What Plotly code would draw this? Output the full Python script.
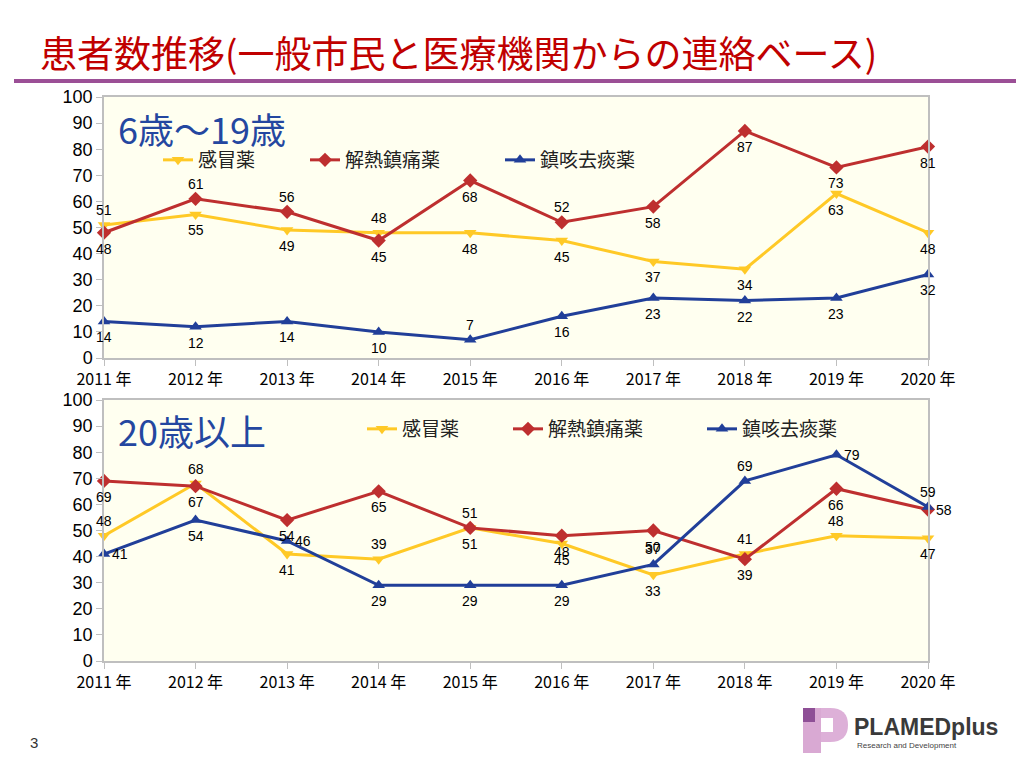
import plotly.graph_objects as go

years = ["2011 年", "2012 年", "2013 年", "2014 年", "2015 年",
         "2016 年", "2017 年", "2018 年", "2019 年", "2020 年"]
series_names = ["感冒薬", "解熱鎮痛薬", "鎮咳去痰薬"]

# 6歳～19歳
youth_cold = [51, 55, 49, 48, 48, 45, 37, 34, 63, 48]
youth_fever = [48, 61, 56, 45, 68, 52, 58, 87, 73, 81]
youth_cough = [14, 12, 14, 10, 7, 16, 23, 22, 23, 32]

# 20歳以上
adult_cold = [48, 68, 41, 39, 51, 45, 33, 41, 48, 47]
adult_fever = [69, 67, 54, 65, 51, 48, 50, 39, 66, 58]
adult_cough = [41, 54, 46, 29, 29, 29, 37, 69, 79, 59]

# data-label placement: T above, B below, R right of the point
T, B, R = "T", "B", "R"
youth_cold_pos = [T, B, B, T, B, B, B, B, B, B]
youth_fever_pos = [B, T, T, B, B, T, B, B, B, B]
youth_cough_pos = [B, B, B, B, T, B, B, B, B, B]
adult_cold_pos = [T, T, B, T, T, B, B, T, T, B]
adult_fever_pos = [B, B, B, B, B, B, B, B, B, R]
adult_cough_pos = [R, B, R, B, B, B, T, T, R, T]

colors = ["#FFC926", "#BE2F2F", "#213F99"]
symbols = ["triangle-down", "diamond", "triangle-up"]

W, H = 1024, 768
OFF = 8  # page body margin offset
def px(x):
    return (x - OFF) / W
def py(y):
    return 1 - (y - OFF) / H

# legend item left edges (pixels) per panel, and legend centre rows
legend_x_top = [158, 305, 500]
legend_x_bottom = [362, 508, 702]
legend_y_top = 160
legend_y_bottom = 429

fig = go.Figure()
xs = list(range(len(years)))

panels = [
    ("x", "y", [youth_cold, youth_fever, youth_cough],
     [youth_cold_pos, youth_fever_pos, youth_cough_pos], ["legend", "legend2", "legend3"]),
    ("x2", "y2", [adult_cold, adult_fever, adult_cough],
     [adult_cold_pos, adult_fever_pos, adult_cough_pos], ["legend4", "legend5", "legend6"]),
]

label_annotations = []
SHIFT = {"T": (0, 15), "B": (0, -16), "R": (16, 0)}
for xa, ya, vals, poss, lgs in panels:
    for name, v, c, s, lg in zip(series_names, vals, colors, symbols, lgs):
        fig.add_trace(go.Scatter(
            x=xs, y=v, xaxis=xa, yaxis=ya, name=name, legend=lg,
            mode="lines+markers", cliponaxis=False,
            line=dict(color=c, width=3),
            marker=dict(symbol=s, size=11, color=c),
        ))
    for v, p in zip(vals, poss):
        for xi, val, pos in zip(xs, v, p):
            dx, dy = SHIFT[pos]
            label_annotations.append(dict(
                x=xi, y=val, xref=xa, yref=ya, text=str(val), showarrow=False,
                xshift=dx, yshift=dy, xanchor="center", yanchor="middle",
                font=dict(size=14, color="black", family="Liberation Sans"),
            ))

axis_x = dict(
    tickvals=xs, ticktext=years, range=[0, 9], showgrid=False, zeroline=False,
    showline=True, linecolor="#BFBFBF", linewidth=1.5, mirror=True,
    ticks="outside", ticklen=6, tickcolor="#BFBFBF", automargin=False,
    tickfont=dict(size=16, color="black", family="Noto Sans CJK JP"),
    domain=[px(104), px(928)],
)
axis_y = dict(
    range=[0, 100], dtick=10, showgrid=False, zeroline=False,
    showline=True, linecolor="#BFBFBF", linewidth=1.5, mirror=True,
    ticks="outside", ticklen=6, tickcolor="#BFBFBF", automargin=False,
    tickfont=dict(size=18, color="black", family="Liberation Sans"),
)

legend_common = dict(
    orientation="h", bgcolor="rgba(0,0,0,0)", xanchor="left", yanchor="middle",
    font=dict(size=19, color="#222", family="Noto Sans CJK JP"),
    tracegroupgap=0,
)

legends = {}
for i, lx in enumerate(legend_x_top):
    key = "legend" if i == 0 else f"legend{i + 1}"
    legends[key] = dict(legend_common, x=px(lx), y=py(legend_y_top))
for i, lx in enumerate(legend_x_bottom):
    legends[f"legend{i + 4}"] = dict(legend_common, x=px(lx), y=py(legend_y_bottom))

fig.update_layout(
    width=W, height=H, margin=dict(l=0, r=0, t=0, b=0, autoexpand=False),
    paper_bgcolor="white", plot_bgcolor="#FFFFF0",
    xaxis=dict(axis_x, anchor="y"),
    yaxis=dict(axis_y, domain=[py(358), py(97)], anchor="x"),
    xaxis2=dict(axis_x, anchor="y2"),
    yaxis2=dict(axis_y, domain=[py(661), py(400)], anchor="x2"),
    showlegend=True,
    **legends,
)

annotations = [
    dict(text="患者数推移(一般市民と医療機関からの連絡ベース)", x=px(38), y=py(52),
         xanchor="left", yanchor="middle", showarrow=False,
         font=dict(size=37, color="#C00000", family="Noto Sans CJK JP")),
    dict(text="6歳～19歳", x=px(116), y=py(128), xanchor="left", yanchor="middle",
         showarrow=False, font=dict(size=36, color="#2447A0", family="Noto Sans CJK JP")),
    dict(text="20歳以上", x=px(116), y=py(430), xanchor="left", yanchor="middle",
         showarrow=False, font=dict(size=36, color="#2447A0", family="Noto Sans CJK JP")),
    dict(text="3", x=px(28), y=py(742), xanchor="left", yanchor="middle",
         showarrow=False, font=dict(size=15, color="#333", family="Liberation Sans")),
    dict(text="<b>PLAMEDplus</b>", x=px(852), y=py(727), xanchor="left", yanchor="middle",
         showarrow=False, font=dict(size=23, color="#3A3A3A", family="Liberation Sans")),
    dict(text="Research and Development", x=px(855), y=py(745), xanchor="left", yanchor="middle",
         showarrow=False, font=dict(size=8, color="#444", family="Liberation Sans")),
]
for a in annotations:
    a.update(xref="paper", yref="paper")
fig.update_layout(annotations=annotations + label_annotations)

def rect(x0, y0, x1, y1, color):
    return dict(type="rect", xref="paper", yref="paper", x0=px(x0), x1=px(x1),
                y0=py(y1), y1=py(y0), fillcolor=color, line=dict(width=0), layer="above")

bowl_path = (f"M {px(815)},{py(708)} L {px(830)},{py(708)} "
             f"Q {px(848)},{py(708)} {px(848)},{py(725)} "
             f"Q {px(848)},{py(742)} {px(830)},{py(742)} "
             f"L {px(815)},{py(742)} Z")
shapes = [
    dict(type="line", xref="paper", yref="paper", x0=px(14), x1=px(1016),
         y0=py(81), y1=py(81), line=dict(color="#9B4F96", width=4)),
    dict(type="path", xref="paper", yref="paper", path=bowl_path,
         fillcolor="#DDB0D8", line=dict(width=0)),
    rect(803, 708, 821, 753, "#D9A9D3"),
    rect(803, 708, 815, 722, "#8E4F96"),
    rect(821, 718, 833, 732, "white"),
]
fig.update_layout(shapes=shapes)

fig.write_html("out.html")
